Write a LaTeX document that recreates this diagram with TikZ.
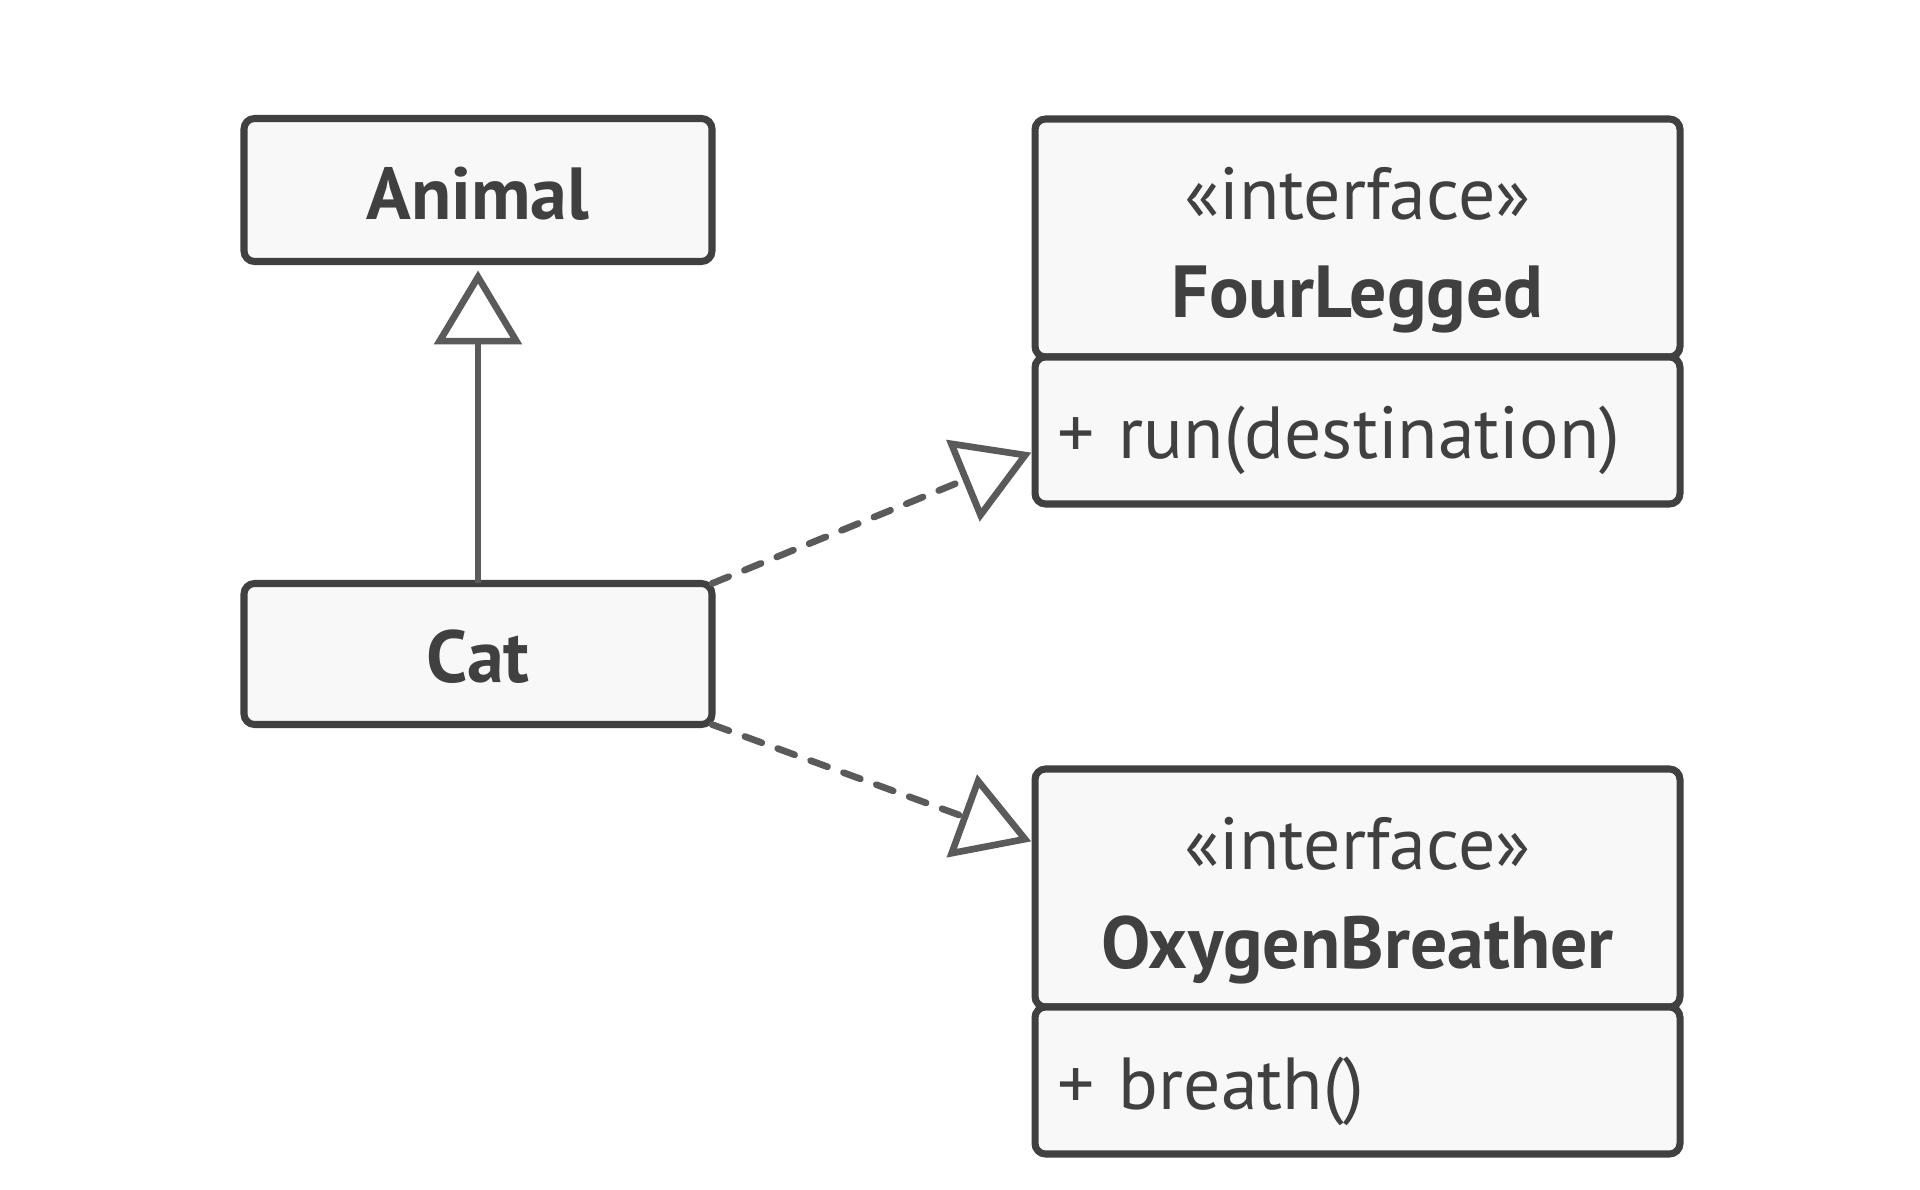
\documentclass[tikz,border=0pt]{standalone}
\usepackage{fontspec}
\setmainfont{PT Sans}
\usetikzlibrary{positioning,arrows.meta,calc}
\definecolor{ink}{HTML}{404040}
\definecolor{wire}{HTML}{5A5A5A}
\definecolor{paper}{HTML}{F8F8F8}
\tikzset{
  cls/.style={draw=ink,fill=paper,line width=2pt,rounded corners=3pt,outer sep=0pt,inner sep=0pt,text=ink,font=\fontsize{21}{28}\selectfont,align=center},
  head/.style={cls,minimum width=6.45cm,text height=1.99cm,text depth=0.39cm},
  ops/.style={cls,align=left,inner xsep=0.22cm,text width=6.01cm,text height=1.02cm,text depth=0.45cm},
  gen/.style={-{Triangle[open,length=0.74cm,width=0.87cm,fill=white]},line width=1.9pt,wire,shorten >=0.09cm},
  real/.style={gen,line cap=round,dash pattern=on 0.18cm off 0.17cm,shorten >=0.04cm},
}

\begin{document}
\begin{tikzpicture}
\path[use as bounding box,fill=white] (0,0) rectangle (19.2,-11.9);
\node[cls,minimum width=4.68cm,text height=1.01cm,text depth=0.42cm] (animal) at (4.78,-1.90) {\textbf{Animal}};
\node[cls,minimum width=4.68cm,text height=0.99cm,text depth=0.42cm] (cat) at (4.78,-6.54) {\textbf{Cat}};
\node[head] (fhead) at (13.575,-2.38) {«interface»\\\textbf{FourLegged}};
\node[ops,below=0pt of fhead] (fbody) {+ run(destination)};
\node[head] (ohead) at (13.575,-8.88) {«interface»\\\textbf{OxygenBreather}};
\node[ops,below=0pt of ohead] (obody) {+ breath()};
\draw[gen] (cat) -- (animal);
\draw[real] (cat.north east) -- ($(fbody.north west)!0.64!(fbody.south west)$);
\draw[real] (cat.south east) -- ($(ohead.north west)!0.31!(ohead.south west)$);
\end{tikzpicture}
\end{document}
